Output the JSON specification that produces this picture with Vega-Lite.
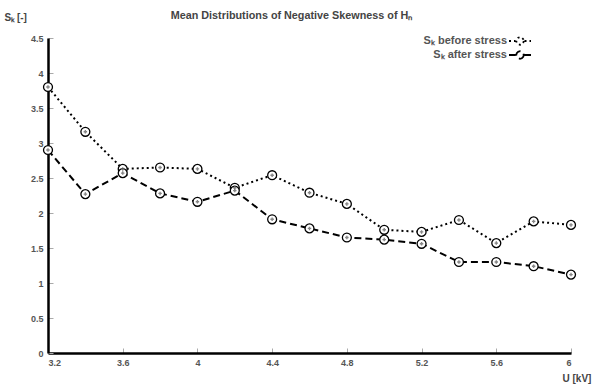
{
  "$schema": "https://vega.github.io/schema/vega-lite/v6.json",
  "width": 523,
  "height": 315,
  "autosize": "none",
  "padding": {"left": 48, "top": 38, "right": 21, "bottom": 32},
  "background": "white",
  "config": {
    "view": {"stroke": null},
    "font": "Liberation Sans",
    "axis": {"grid": false, "labelFont": "Liberation Sans", "labelColor": "#555", "labelFontSize": 9, "labelFontWeight": "bold", "domainColor": "black", "domainWidth": 2.5, "tickColor": "#aaa", "tickWidth": 1, "tickSize": -5, "labelPadding": 10, "titleFont": "Liberation Sans", "titleFontSize": 10, "titleFontWeight": "bold", "titleColor": "#444"}
  },
  "title": {"text": "Mean Distributions of Negative Skewness of Hₙ", "fontSize": 10.8, "font": "Liberation Sans", "fontWeight": "bold", "color": "#444", "dx": -18, "offset": -9},
  "data": {
    "values": [
      {"U": 3.2, "S": 3.80, "series": "Sₖ before stress"},
      {"U": 3.4, "S": 3.16, "series": "Sₖ before stress"},
      {"U": 3.6, "S": 2.63, "series": "Sₖ before stress"},
      {"U": 3.8, "S": 2.65, "series": "Sₖ before stress"},
      {"U": 4.0, "S": 2.63, "series": "Sₖ before stress"},
      {"U": 4.2, "S": 2.36, "series": "Sₖ before stress"},
      {"U": 4.4, "S": 2.54, "series": "Sₖ before stress"},
      {"U": 4.6, "S": 2.29, "series": "Sₖ before stress"},
      {"U": 4.8, "S": 2.13, "series": "Sₖ before stress"},
      {"U": 5.0, "S": 1.76, "series": "Sₖ before stress"},
      {"U": 5.2, "S": 1.73, "series": "Sₖ before stress"},
      {"U": 5.4, "S": 1.90, "series": "Sₖ before stress"},
      {"U": 5.6, "S": 1.57, "series": "Sₖ before stress"},
      {"U": 5.8, "S": 1.88, "series": "Sₖ before stress"},
      {"U": 6.0, "S": 1.83, "series": "Sₖ before stress"},
      {"U": 3.2, "S": 2.90, "series": "Sₖ after stress"},
      {"U": 3.4, "S": 2.27, "series": "Sₖ after stress"},
      {"U": 3.6, "S": 2.57, "series": "Sₖ after stress"},
      {"U": 3.8, "S": 2.28, "series": "Sₖ after stress"},
      {"U": 4.0, "S": 2.16, "series": "Sₖ after stress"},
      {"U": 4.2, "S": 2.32, "series": "Sₖ after stress"},
      {"U": 4.4, "S": 1.91, "series": "Sₖ after stress"},
      {"U": 4.6, "S": 1.78, "series": "Sₖ after stress"},
      {"U": 4.8, "S": 1.65, "series": "Sₖ after stress"},
      {"U": 5.0, "S": 1.62, "series": "Sₖ after stress"},
      {"U": 5.2, "S": 1.56, "series": "Sₖ after stress"},
      {"U": 5.4, "S": 1.30, "series": "Sₖ after stress"},
      {"U": 5.6, "S": 1.30, "series": "Sₖ after stress"},
      {"U": 5.8, "S": 1.24, "series": "Sₖ after stress"},
      {"U": 6.0, "S": 1.12, "series": "Sₖ after stress"}
    ]
  },
  "encoding": {
    "x": {"field": "U", "type": "quantitative", "scale": {"domain": [3.2, 6], "nice": false, "zero": false},
      "axis": {"values": [3.2, 3.6, 4, 4.4, 4.8, 5.2, 5.6, 6], "format": "~g", "title": "U [kV]", "titleAlign": "left", "titleAnchor": "start", "titleX": 514, "titleY": 25, "titleBaseline": "middle"}},
    "y": {"field": "S", "type": "quantitative", "scale": {"domain": [0, 4.5], "nice": false},
      "axis": {"values": [0, 0.5, 1, 1.5, 2, 2.5, 3, 3.5, 4, 4.5], "format": "~g", "title": "Sₖ [-]", "titleAngle": 0, "titleAlign": "left", "titleX": -44, "titleY": -21, "titleBaseline": "middle"}}
  },
  "layer": [
    {
      "mark": {"type": "line", "color": "black", "strokeWidth": 2},
      "encoding": {
        "strokeDash": {"field": "series", "type": "nominal",
          "scale": {"domain": ["Sₖ before stress", "Sₖ after stress"], "range": [[2, 3], [7, 4]]},
          "legend": {"title": null, "orient": "none", "legendX": 466, "legendY": -3,
            "symbolType": "M -2.2 0 L -0.9 0 M 0.9 0 L 2.2 0 M 0.75 0 L 0.65 0.375 L 0.375 0.65 L 0 0.75 L -0.375 0.65 L -0.65 0.375 L -0.75 0 L -0.65 -0.375 L -0.375 -0.65 L 0 -0.75 L 0.375 -0.65 L 0.65 -0.375 Z",
            "symbolSize": 100, "symbolStrokeColor": "black", "symbolFillColor": "white", "symbolStrokeWidth": 1.8,
            "labelFont": "Liberation Sans", "labelFontSize": 11, "labelFontWeight": "bold", "labelColor": "#555",
            "labelAlign": "right", "labelOffset": -19, "rowPadding": -5}}
      }
    },
    {
      "mark": {"type": "point", "shape": "circle", "filled": true, "fill": "white", "stroke": "black", "strokeWidth": 1.3, "size": 80, "opacity": 1},
      "encoding": {"detail": {"field": "series"}}
    },
    {
      "mark": {"type": "point", "shape": "cross", "filled": true, "color": "#666", "size": 12, "opacity": 0.8},
      "encoding": {"detail": {"field": "series"}}
    }
  ]
}
